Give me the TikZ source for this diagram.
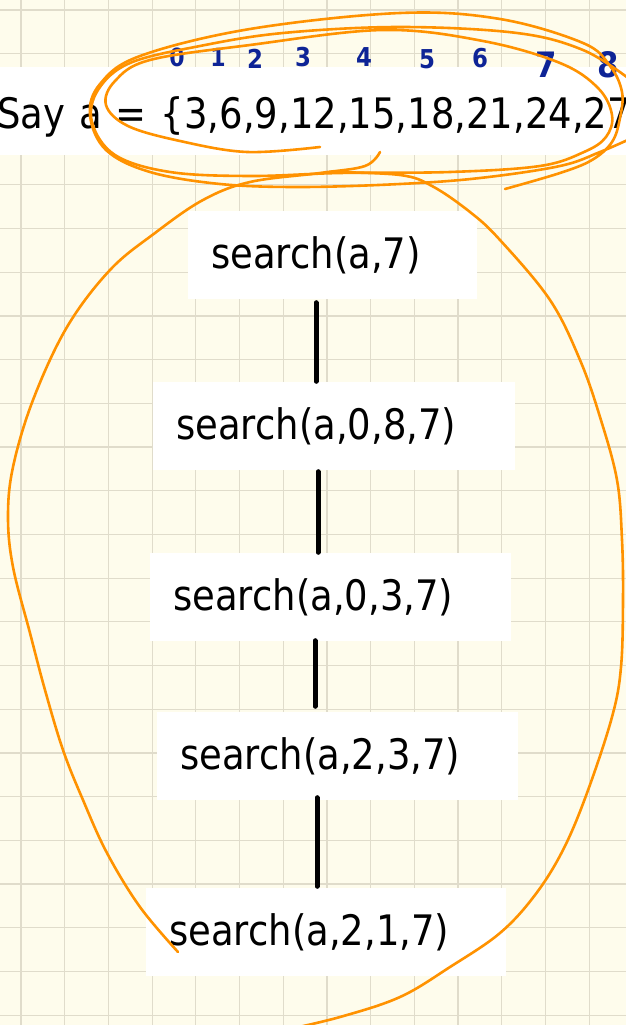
\documentclass[tikz,border=0pt]{standalone}
\usepackage{fontspec}
\setmainfont{DejaVu Sans}[FakeStretch=0.88]
\usetikzlibrary{calc}

\definecolor{paper}{RGB}{254,252,236}
\definecolor{gridgray}{RGB}{224,220,203}
\definecolor{marker}{RGB}{255,146,0}
\definecolor{ink}{RGB}{14,36,150}

\tikzset{
  callbox/.style={fill=white, inner xsep=23pt, inner ysep=0pt,
    text height=57.5pt, text depth=30.5pt, align=left, anchor=base west,
    font=\fontsize{42}{50}\selectfont},
  link/.style={line width=5pt, line cap=round},
  scribble/.style={marker, line width=2.6pt, line cap=round, line join=round},
  idx/.style={ink, inner sep=0pt},
}

\begin{document}
\begin{tikzpicture}[x=1pt, y=-1pt]
\clip (0,0) rectangle (626,1025);
\fill[paper] (0,0) rectangle (626,1025);

% grid paper
\foreach \i in {0,...,14}
  \draw[gridgray, line width=1.2pt] ({21+43.7*\i},0) -- ++(0,1025);
\foreach \j in {0,...,23}
  \draw[gridgray, line width=1.2pt] (0,{10+43.7*\j}) -- ++(626,0);

% the array
\node[callbox, text width=700pt, inner xsep=0pt, text height=61pt, text depth=27pt]
  (arr) at (-3,128) {Say a = \{3,6,9,12,15,18,21,24,27};

% the chain of calls
\node[callbox, text width=243pt] (s1) at (188,268) {search(a,7)};
\node[callbox, text width=316pt] (s2) at (153,439) {search(a,0,8,7)};
\node[callbox, text width=315pt] (s3) at (150,610) {search(a,0,3,7)};
\node[callbox, text width=315pt] (s4) at (157,769) {search(a,2,3,7)};
\node[callbox, text width=314pt] (s5) at (146,945) {search(a,2,1,7)};

\coordinate (spine) at (316,0);
\draw[link] ($(s1.south -| spine)+(0,4)$) -- (s2.north -| spine);
\draw[link] ($(s2.south -| spine)+(2,2)$) -- ($(s3.north -| spine)+(2,0)$);
\draw[link] ($(s3.south -| spine)+(-1,0)$) -- ($(s4.north -| spine)+(-1,-5)$);
\draw[link] ($(s4.south -| spine)+(1,-2)$) -- ($(s5.north -| spine)+(1,-1)$);

% indices written over the array
\foreach \d/\x/\y/\s in {0/177/57/25, 1/218/57/25, 2/255/59/26, 3/303/57/26,
    4/364/57/26, 5/427/59/26, 6/480/58/26, 7/546/65/35, 8/608/65/35}
  \node[idx, font=\fontsize{\s}{\s}\selectfont\bfseries] (i\d) at (\x,\y) {\d};

% marker loops round the array
\draw[scribble] plot[smooth, tension=0.6] coordinates {
  (320,147) (247,152) (180,141) (128,126) (106,105) (115,81) (150,60)
  (250,45) (383,30) (483,41) (560,63) (598,88) (612,115) (606,137)
  (584,152) (540,166) (450,172) (340,173) (250,176) (170,172) (115,155)
  (92,122) (98,90) (130,63) (200,46) (283,33) (400,27) (517,33) (583,50)
  (628,78)};
\draw[scribble] plot[smooth, tension=0.6] coordinates {
  (632,138) (600,152) (560,166) (480,178) (400,184) (300,187) (220,184)
  (150,172) (106,150) (90,115) (100,84) (140,56) (250,29) (400,13)
  (500,19) (583,43) (610,66) (622,92) (620,118) (612,142) (592,160)
  (560,173) (505,189)};

% big loop round the calls
\draw[scribble] plot[smooth, tension=0.6] coordinates {
  (380,152) (365,166) (320,173) (250,182) (203,200) (155,233) (110,270)
  (67,327) (33,400) (13,467) (8,517) (13,567) (30,633) (45,690) (63,750)
  (83,800) (107,853) (140,907) (178,952)};
\draw[scribble] plot[smooth, tension=0.6] coordinates {
  (330,172) (400,175) (432,186) (470,212) (500,240) (550,300) (580,360)
  (600,417) (617,480) (622,540) (623,600) (621,667) (612,717) (587,793)
  (563,850) (535,895) (500,933) (450,967) (400,997) (340,1017) (285,1030)};
\end{tikzpicture}
\end{document}
